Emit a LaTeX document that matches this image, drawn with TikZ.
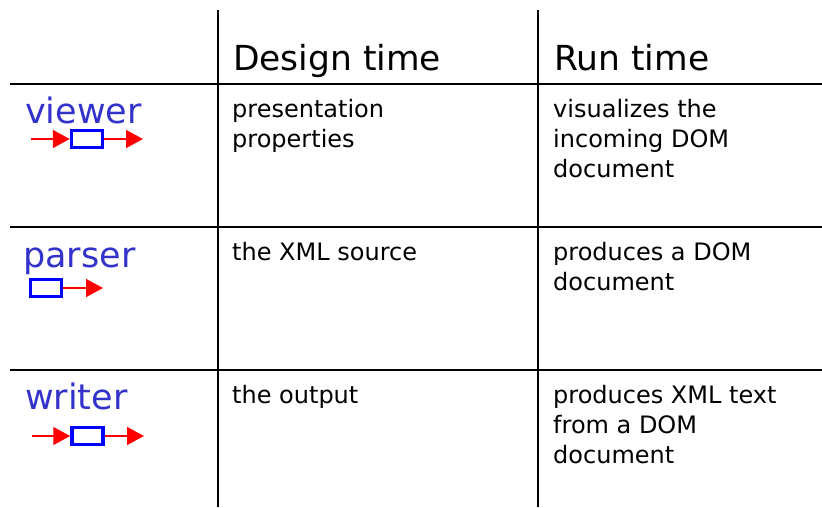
\documentclass[tikz,border=0pt]{standalone}
\usepackage{fontspec}
\setmainfont{DejaVu Sans}
\usetikzlibrary{arrows.meta}
\definecolor{lblblue}{RGB}{51,51,204}
\definecolor{boxblue}{RGB}{0,0,255}
\begin{document}
\begin{tikzpicture}[x=1pt,y=-1pt,
  grid/.style={line width=2pt,black},
  hdr/.style={anchor=base west,inner sep=0,font=\fontsize{34.5}{40}\selectfont},
  body/.style={anchor=base west,inner sep=0,align=left,font=\fontsize{24}{30}\selectfont},
  lbl/.style={anchor=base west,inner sep=0,text=lblblue,font=\fontsize{35}{40}\selectfont},
  comp/.style={draw=boxblue,line width=3.5pt,fill=white,minimum width=31pt,minimum height=17pt,inner sep=0},
  flow/.style={red,line width=1.5pt,-{Triangle[length=17pt,width=18pt]}}
]
\useasboundingbox (0,0) rectangle (822,507);
% grid
\draw[grid] (218,10) -- (218,507);
\draw[grid] (538,10) -- (538,507);
\draw[grid] (10,84) -- (822,84);
\draw[grid] (10,227) -- (822,227);
\draw[grid] (10,370) -- (822,370);
% headers
\node[hdr] (hdesign) at (233,70) {Design time};
\node[hdr] (hrun) at (554,70) {Run time};
% labels
\node[lbl] (lviewer) at (25,123) {viewer};
\node[lbl] (lparser) at (23,267) {parser};
\node[lbl] (lwriter) at (25,409) {writer};
% icons
\coordinate (vin) at (31,139);
\coordinate (vout) at (143,139);
\node[comp] (vbox) at (87,139) {};
\draw[flow] (vin) -- (vbox.west);
\draw[flow] (vbox.east) -- (vout);
\node[comp] (vbox2) at (87,139) {};
\coordinate (pout) at (103,288);
\node[comp] (pbox) at (46,288) {};
\draw[flow] (pbox.east) -- (pout);
\node[comp] (pbox2) at (46,288) {};
\coordinate (win) at (32,436);
\coordinate (wout) at (144,436);
\node[comp] (wbox) at (87.5,436) {};
\draw[flow] (win) -- (wbox.west);
\draw[flow] (wbox.east) -- (wout);
\node[comp] (wbox2) at (87.5,436) {};
% body (base anchor = baseline of last line)
\node[body] (d1) at (232,147) {presentation\\properties};
\node[body] (r1) at (553,177) {visualizes the\\incoming DOM\\document};
\node[body] (d2) at (232,260) {the XML source};
\node[body] (r2) at (553,290) {produces a DOM\\document};
\node[body] (d3) at (232,403) {the output};
\node[body] (r3) at (553,463) {produces XML text\\from a DOM\\document};
\end{tikzpicture}
\end{document}
